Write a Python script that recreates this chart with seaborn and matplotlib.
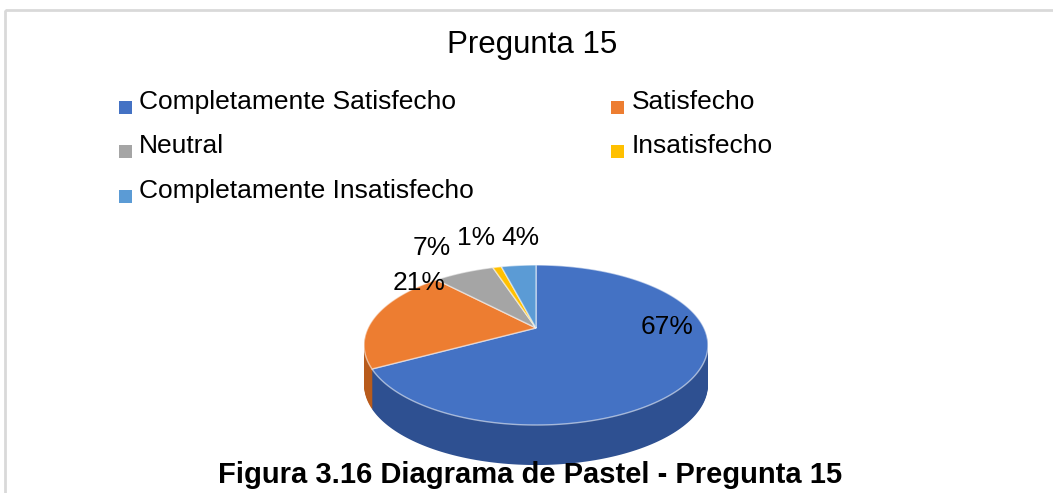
import numpy as np
import matplotlib
matplotlib.use('Agg')
import matplotlib.pyplot as plt
import matplotlib.transforms as mtransforms
from matplotlib.path import Path
from matplotlib.patches import Patch, Rectangle
from matplotlib.legend_handler import HandlerPatch
import seaborn as sns

# --- DATA ---
categories = ['Completamente Satisfecho', 'Satisfecho', 'Neutral',
              'Insatisfecho', 'Completamente Insatisfecho']
percentages = [67, 21, 7, 1, 4]
title = 'Pregunta 15'
caption = 'Figura 3.16 Diagrama de Pastel - Pregunta 15'

top_colors = ['#4472C4', '#ED7D31', '#A5A5A5', '#FFC000', '#5B9BD5']
side_colors = ['#2E5091', '#B85B1C', '#7C7C7C', '#BF9000', '#41719C']

sns.set_theme(style='white')
plt.rcParams['font.family'] = ['Liberation Sans', 'DejaVu Sans']
plt.rcParams['text.color'] = 'black'

W, H = 1053, 493


# Excel-like 3D pie: project the flat unit disk onto a tilted plane
class TiltedDisk(mtransforms.Transform):
    input_dims = 2
    output_dims = 2
    is_separable = False

    def __init__(self, cx, cy, a, b, k, drop=0.0):
        super().__init__()
        self.cx, self.cy, self.a, self.b, self.k, self.drop = cx, cy, a, b, k, drop

    def transform_non_affine(self, values):
        v = np.asarray(values, dtype=float).reshape(-1, 2)
        s = 1.0 / (1.0 + self.k * v[:, 1])
        return np.column_stack([self.cx + self.a * v[:, 0] * s,
                                self.cy - self.b * v[:, 1] * s + self.drop])

    def transform_path_non_affine(self, path):
        t = np.linspace(0, 1, 24)
        pts = np.vstack([seg(t) for seg, code in path.iter_bezier()])
        return Path(self.transform_non_affine(pts), closed=True)


fig = plt.figure(figsize=(W / 100, H / 100), dpi=100)
ax = fig.add_axes([0, 0, 1, 1])

geom = dict(cx=536, cy=328, a=168, b=76.4, k=0.2126)
depth = 40

# side of the cylinder: stacked darker layers
for d in range(depth, 0, -1):
    wedges, _ = ax.pie(percentages, colors=side_colors, startangle=90,
                       counterclock=False, wedgeprops=dict(linewidth=0))
    tr = TiltedDisk(drop=d, **geom) + ax.transData
    for w in wedges:
        w.set_transform(tr)
        w.set_zorder(1)

# top face
wedges, _, autotexts = ax.pie(percentages, colors=top_colors, startangle=90,
                              counterclock=False, autopct='%1.0f%%',
                              wedgeprops=dict(linewidth=1.0, edgecolor=(1, 1, 1, 0.55)),
                              textprops=dict(fontsize=19, color='black'))
tr = TiltedDisk(**geom) + ax.transData
# label anchors on the disk (angle in degrees, radius), placed like Excel does
label_spot = {0: (1, 0.78), 1: (140, 1.04), 3: (107, 1.64), 4: (94.6, 1.58)}
for i, (w, t) in enumerate(zip(wedges, autotexts)):
    w.set_transform(tr)
    w.set_zorder(2)
    if i in label_spot:
        ang, r = label_spot[i]
    else:
        ang, r = (w.theta1 + w.theta2) / 2, 1.56
    t.set_position((r * np.cos(np.radians(ang)), r * np.sin(np.radians(ang))))
    t.set_transform(tr)
    t.set_ha('center')
    t.set_va('center')
    t.set_zorder(3)

ax.set_aspect('auto')
ax.set_xlim(0, W)
ax.set_ylim(H, 0)
ax.axis('off')

# chart frame
ax.add_patch(Rectangle((4.5, 9.5), W + 20, H + 20, fill=False,
                       edgecolor='#d9d9d9', linewidth=2, zorder=0))

fig.text(532 / W, 1 - 53 / H, title, ha='center', va='baseline', fontsize=22.5)
fig.text(530 / W, 1 - 483 / H, caption, ha='center', va='baseline',
         fontsize=21, fontweight='bold')


# small square legend keys sitting a little below the text baseline
def low_square(legend, orig_handle, xdescent, ydescent, width, height, fontsize):
    return Rectangle((-xdescent, -ydescent - 5.0), width, width)


# legend, filled row by row
order = [0, 2, 4, 1, 3]
handles = [Patch(facecolor=top_colors[i], edgecolor='none') for i in order]
labels = [categories[i] for i in order]
fig.legend(handles, labels, loc='upper left',
           bbox_to_anchor=(119 / W, 1 - 90 / H), bbox_transform=fig.transFigure,
           ncol=2, frameon=False, fontsize=19, handlelength=0.5, handleheight=0.5,
           handletextpad=0.27, columnspacing=5.2, labelspacing=0.77,
           borderpad=0, borderaxespad=0,
           handler_map={Patch: HandlerPatch(patch_func=low_square)})

fig.savefig('out.png', dpi=100)
